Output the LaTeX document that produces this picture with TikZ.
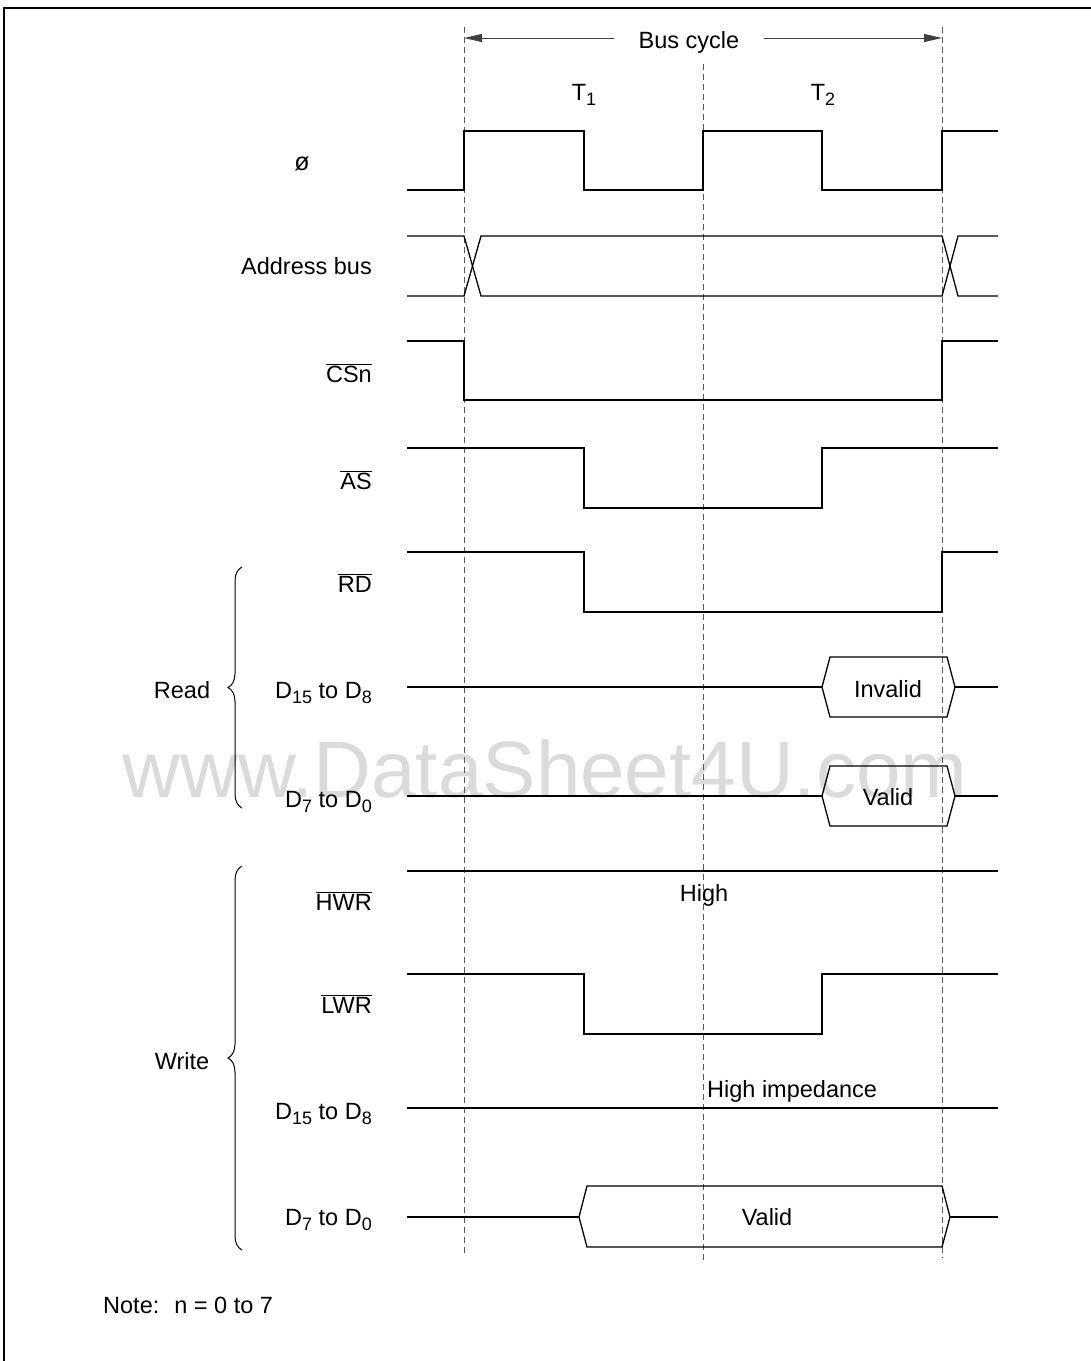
\documentclass[tikz,border=0pt]{standalone}
\usepackage{fontspec}
\setmainfont{Liberation Sans}
\usetikzlibrary{arrows.meta,decorations.pathreplacing}
\newcommand\sbs[1]{\raisebox{-5.5pt}{\fontsize{18}{18}\selectfont #1}}
\newcommand\ovl[1]{$\overline{\hbox{#1}}$}
\begin{document}
\begin{tikzpicture}[x=1pt,y=-1pt,
  sig/.style={line width=1.3pt,line join=miter},
  gridline/.style={draw=black!65,line width=1pt,dash pattern=on 6pt off 4pt},
  arr/.style={draw=black!75,line width=1pt,-{Triangle[length=18pt,width=8pt]}},
  bracestyle/.style={draw,line width=1pt,decorate,decoration={brace,amplitude=14pt}},
  lbl/.style={anchor=base east,inner sep=0pt,font=\fontsize{23.5}{28}\selectfont},
  txt/.style={anchor=base,inner sep=0pt,font=\fontsize{23.5}{28}\selectfont},
  txtw/.style={anchor=base west,inner sep=0pt,font=\fontsize{23.5}{28}\selectfont},
  ]
\useasboundingbox (0,0) rectangle (1091,1361);
% watermark
\node[anchor=base,inner sep=0pt,text=black!14,font=\fontsize{80}{80}\selectfont] (wm) at (545,797) {www.DataSheet4U.com};
% frame
\draw[line width=2pt] (4,1361) -- (4,8) -- (1091,8);
% time grid
\coordinate (g1t) at (464,27);  \coordinate (g1b) at (464,1256);
\coordinate (g2t) at (703,64);  \coordinate (g2b) at (703,1262);
\coordinate (g3t) at (942,27);  \coordinate (g3b) at (942,1258);
\draw[gridline] (g1t) -- (g1b);
\draw[gridline] (g2t) -- (g2b);
\draw[gridline] (g3t) -- (g3b);
% bus cycle
\node[anchor=base,inner ysep=0pt,inner xsep=24.5pt,font=\fontsize{23.5}{28}\selectfont] (bc) at (689,48) {Bus cycle};
\coordinate (al) at (464,38);
\coordinate (ar) at (942,38);
\draw[arr] (bc.west |- al) -- (al);
\draw[arr] (bc.east |- ar) -- (ar);
\node[txt] (t1) at (584,100) {T\sbs{1}};
\node[txt] (t2) at (823,100) {T\sbs{2}};
% phi
\node[txt,font=\fontsize{25}{28}\selectfont] (lphi) at (302,170) {ø};
\draw[sig] (407,190) -- (464,190) -- (464,131) -- (584,131) -- (584,190) -- (703,190) -- (703,131) -- (822,131) -- (822,190) -- (942,190) -- (942,131) -- (998,131);
% address bus
\node[lbl] (laddr) at (372,274) {Address bus};
\draw[sig] (407,236) -- (464,236) -- (481,296) -- (942,296) -- (958,236) -- (998,236);
\draw[sig] (407,296) -- (464,296) -- (481,236) -- (942,236) -- (958,296) -- (998,296);
% CSn
\node[lbl] (lcs) at (372,382) {\ovl{CSn}};
\draw[sig] (407,341) -- (464,341) -- (464,400) -- (942,400) -- (942,341) -- (998,341);
% AS
\node[lbl] (las) at (372,489) {\ovl{AS}};
\draw[sig] (407,448) -- (584,448) -- (584,508) -- (822,508) -- (822,448) -- (998,448);
% RD
\node[lbl] (lrd) at (372,592) {\ovl{RD}};
\draw[sig] (407,552) -- (584,552) -- (584,612) -- (942,612) -- (942,552) -- (998,552);
% Read D15-D8
\node[lbl] (lrdh) at (372,698) {D\sbs{15} to D\sbs{8}};
\draw[sig] (407,687) -- (822,687);
\draw[sig] (822,687) -- (830,657) -- (947,657) -- (955,687) -- (947,717) -- (830,717) -- cycle;
\draw[sig] (955,687) -- (998,687);
\node[txt] (inv) at (888,697) {Invalid};
% Read D7-D0
\node[lbl] (lrdl) at (372,807) {D\sbs{7} to D\sbs{0}};
\draw[sig] (407,796) -- (822,796);
\draw[sig] (822,796) -- (830,766) -- (947,766) -- (955,796) -- (947,826) -- (830,826) -- cycle;
\draw[sig] (955,796) -- (998,796);
\node[txt] (val1) at (888,805) {Valid};
% HWR
\node[lbl] (lhwr) at (372,910) {\ovl{HWR}};
\draw[sig] (407,871) -- (998,871);
\node[txt] (high) at (704,901) {High};
% LWR
\node[lbl] (llwr) at (372,1013) {\ovl{LWR}};
\draw[sig] (407,974) -- (584,974) -- (584,1034) -- (822,1034) -- (822,974) -- (998,974);
% Write D15-D8
\node[lbl] (lwrh) at (372,1119) {D\sbs{15} to D\sbs{8}};
\draw[sig] (407,1108) -- (998,1108);
\node[txtw] (hiz) at (707,1097) {High impedance};
% Write D7-D0
\node[lbl] (lwrl) at (372,1225) {D\sbs{7} to D\sbs{0}};
\draw[sig] (407,1217) -- (579,1217);
\draw[sig] (579,1217) -- (587,1186) -- (942,1186) -- (950,1217) -- (942,1247) -- (587,1247) -- cycle;
\draw[sig] (950,1217) -- (998,1217);
\node[txt] (val2) at (767,1225) {Valid};
% braces
\coordinate (rb1) at (242,808); \coordinate (rt1) at (242,567);
\draw[bracestyle] (rb1) -- (rt1);
\node[txt] (read) at (182,698) {Read};
\coordinate (wb1) at (242,1250); \coordinate (wt1) at (242,866);
\draw[bracestyle] (wb1) -- (wt1);
\node[txt] (write) at (182,1069) {Write};
% note
\node[txtw] (note) at (103,1313) {Note:\hspace{15pt}n = 0 to 7};
\end{tikzpicture}
\end{document}
